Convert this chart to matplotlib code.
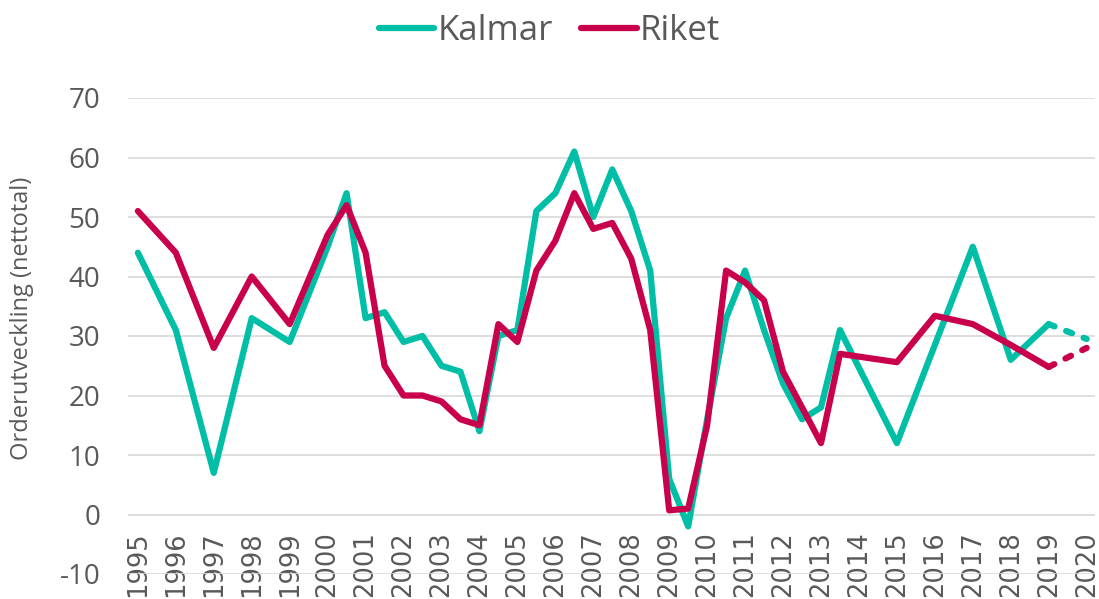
import matplotlib.pyplot as plt

plt.rcParams['axes.unicode_minus'] = False

# Data
years = list(range(1995, 2021))
kalmar_x = [1995, 1996, 1997, 1998, 1999, 2000, 2000.5, 2001, 2001.5, 2002, 2002.5,
            2003, 2003.5, 2004, 2004.5, 2005, 2005.5, 2006, 2006.5, 2007, 2007.5,
            2008, 2008.5, 2009, 2009.5, 2010, 2010.5, 2011, 2011.5, 2012, 2012.5,
            2013, 2013.5, 2015, 2017, 2018, 2019]
kalmar_y = [44, 31, 7, 33, 29, 45, 54, 33, 34, 29, 30,
            25, 24, 14, 30, 31, 51, 54, 61, 50, 58,
            51, 41, 6, -2, 16, 33, 41, 31, 22, 16,
            18, 31, 12, 45, 26, 32]
riket_x = [1995, 1996, 1997, 1998, 1999, 2000, 2000.5, 2001, 2001.5, 2002, 2002.5,
           2003, 2003.5, 2004, 2004.5, 2005, 2005.5, 2006, 2006.5, 2007, 2007.5,
           2008, 2008.5, 2009, 2009.5, 2010, 2010.5, 2011, 2011.5, 2012,
           2013, 2013.5, 2015, 2016, 2017, 2018, 2019]
riket_y = [51, 44, 28, 40, 32, 47, 52, 44, 25, 20, 20,
           19, 16, 15, 32, 29, 41, 46, 54, 48, 49,
           43, 31, 0.7, 1, 15, 41, 39, 36, 24,
           12, 27, 25.6, 33.4, 32, 28.5, 24.8]
forecast_x = [2019, 2020]
kalmar_fc = [32, 29.5]
riket_fc = [24.8, 28]

teal = '#00BFA6'
crimson = '#C9004B'
grey = '#595959'

fig = plt.figure(figsize=(10.99, 5.99), dpi=100)
ax = fig.add_axes([128 / 1099, 1 - 574 / 599, 967 / 1099, 476 / 599])

# spine position first, it resets the ticks
for s in ['top', 'right', 'left']:
    ax.spines[s].set_visible(False)
ax.spines['bottom'].set_position(('data', 0))
ax.spines['bottom'].set_visible(False)

lw = 4.5
ax.plot(kalmar_x, kalmar_y, color=teal, lw=lw, solid_joinstyle='round',
        solid_capstyle='round', label='Kalmar', zorder=3)
ax.plot(riket_x, riket_y, color=crimson, lw=lw, solid_joinstyle='round',
        solid_capstyle='round', label='Riket', zorder=4)
ax.plot(forecast_x, kalmar_fc, color=teal, lw=lw, dashes=(1.0, 2.0),
        dash_capstyle='round', zorder=3)
ax.plot(forecast_x, riket_fc, color=crimson, lw=lw, dashes=(1.0, 2.0),
        dash_capstyle='round', zorder=4)

ax.set_ylim(-10, 70)
ax.set_xlim(1994.74, 2020.22)
ax.set_yticks(range(-10, 71, 10))
ax.set_yticklabels([str(v) for v in range(-10, 71, 10)], family='Open Sans')
ax.set_xticks(years)
ax.set_xticklabels([str(y) for y in years], rotation=90, va='top',
                   fontsize=18.5, color=grey, family='DejaVu Sans')
ax.tick_params(axis='y', length=0, pad=20, labelsize=20, labelcolor=grey)
ax.tick_params(axis='x', length=0, pad=12)

ax.grid(axis='y', color='#D9D9D9', lw=1.2)
ax.set_axisbelow(True)

ax.set_ylabel('Orderutveckling (nettotal)', fontsize=17, color=grey,
              family='Open Sans', va='center')
ax.yaxis.set_label_coords(-0.11, 0.538)

leg = fig.legend(loc='center', bbox_to_anchor=(0.5, 1 - 31 / 599), ncol=2,
                 frameon=False, handlelength=1.6, handletextpad=0.1,
                 columnspacing=0.8, prop={'family': 'Open Sans', 'size': 25})
for t in leg.get_texts():
    t.set_color(grey)

fig.savefig('out.png', dpi=100)
